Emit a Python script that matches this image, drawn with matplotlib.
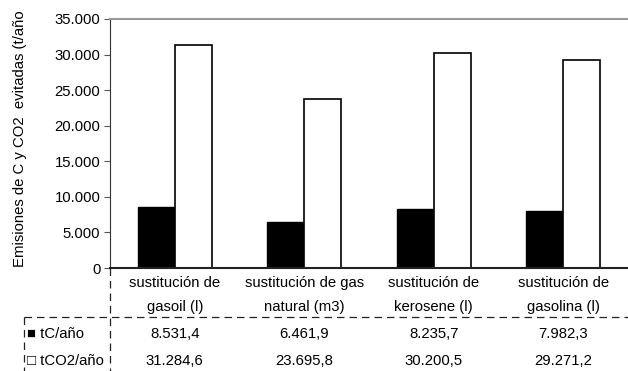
import matplotlib.pyplot as plt
from matplotlib.ticker import FuncFormatter
from matplotlib.lines import Line2D
from matplotlib.transforms import blended_transform_factory
import numpy as np

plt.rcParams['font.family'] = ['Liberation Sans', 'DejaVu Sans']

categorias = ["sustitución de\ngasoil (l)", "sustitución de gas\nnatural (m3)",
              "sustitución de\nkerosene (l)", "sustitución de\ngasolina (l)"]
tC = [8531.4, 6461.9, 8235.7, 7982.3]
tCO2 = [31284.6, 23695.8, 30200.5, 29271.2]
series = ["tC/año", "tCO2/año"]

fs = 10.7


def es_fmt(v, dec=0):
    s = f"{v:,.{dec}f}"
    return s.replace(",", "X").replace(".", ",").replace("X", ".")


fig = plt.figure(figsize=(6.28, 3.71), dpi=100)
ax = fig.add_axes([110/628, 1-268/371, 1-110/628, (268-19)/371])

x = np.arange(len(categorias))
w = 0.285
ax.bar(x - w/2, tC, w, color="black", edgecolor="black", linewidth=1)
ax.bar(x + w/2, tCO2, w, color="white", edgecolor="black", linewidth=1.2)

ax.set_xlim(-0.5, len(categorias) - 0.5)
ax.set_ylim(0, 35000)
ax.set_yticks(np.arange(0, 35001, 5000))
ax.yaxis.set_major_formatter(FuncFormatter(lambda v, p: es_fmt(v)))
ax.tick_params(axis="y", labelsize=fs, length=4, width=0.8, pad=3, color="#555555")
ax.set_xticks(x)
ax.set_xticklabels(categorias, fontsize=fs, linespacing=1.85)
ax.tick_params(axis="x", length=0, pad=6)

ax.spines["right"].set_visible(False)
ax.spines["top"].set_color("#999999")
ax.spines["top"].set_linewidth(1.5)
ax.spines["left"].set_color("#333333")
ax.spines["bottom"].set_color("#222222")
ax.spines["bottom"].set_linewidth(1.5)

ax.set_ylabel("Emisiones de C y CO2  evitadas (t/año", fontsize=fs)
ax.yaxis.set_label_coords(-0.16, 0.52)

# data table below the chart
tr = blended_transform_factory(ax.transData, fig.transFigure)
filas = [tC, tCO2]
ys = [1-334/371, 1-361/371]
for fila, y in zip(filas, ys):
    for i, v in enumerate(fila):
        ax.text(x[i], y, es_fmt(v, 1), transform=tr, ha="center", va="center",
                fontsize=fs, clip_on=False)

marcas = ["■", "□"]
for nombre, m, y in zip(series, marcas, ys):
    fig.text(27/628, y, m + " " + nombre, ha="left", va="center", fontsize=fs)

dash = dict(color="#222222", linewidth=0.9, linestyle=(0, (6, 4)))
fig.add_artist(Line2D([24/628, 1], [1-317/371, 1-317/371], transform=fig.transFigure, **dash))
fig.add_artist(Line2D([110/628, 110/628], [1-268/371, 0], transform=fig.transFigure, **dash))
fig.add_artist(Line2D([24/628, 24/628], [1-317/371, 0], transform=fig.transFigure, **dash))

fig.savefig("out.png", dpi=100)
